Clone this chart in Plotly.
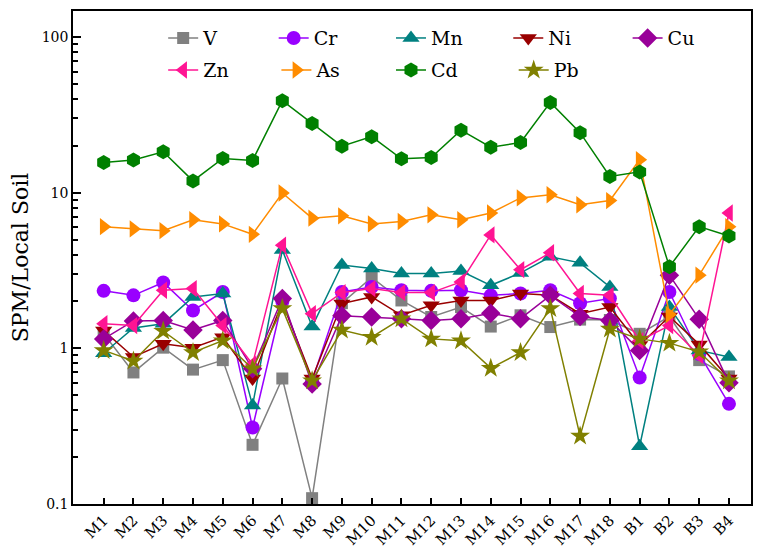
import plotly.graph_objects as go

sites = ["M1","M2","M3","M4","M5","M6","M7","M8","M9","M10","M11","M12","M13","M14","M15","M16","M17","M18","B1","B2","B3","B4"]

V  = [1.24,0.70,1.01,0.73,0.84,0.24,0.64,0.109,1.95,2.85,2.03,1.59,1.84,1.38,1.63,1.37,1.53,1.52,1.24,1.60,0.84,0.66]
Cr = [2.34,2.19,2.65,1.75,2.30,0.31,2.00,0.62,2.30,2.48,2.36,2.34,2.36,2.19,2.25,2.36,1.95,2.09,0.65,2.30,0.92,0.44]
Mn = [0.93,1.35,1.44,2.14,2.25,0.43,4.28,1.38,3.43,3.26,3.02,3.02,3.14,2.54,3.05,3.87,3.54,2.48,0.235,1.84,0.97,0.88]
Ni = [1.30,0.88,1.07,1.01,1.18,0.64,1.98,0.64,1.94,2.14,1.63,1.89,2.03,2.03,2.25,2.19,1.67,1.84,1.05,1.60,1.06,0.64]
Cu = [1.15,1.50,1.51,1.31,1.51,0.74,2.09,0.59,1.62,1.59,1.55,1.51,1.55,1.68,1.55,2.19,1.60,1.51,0.97,2.95,1.54,0.60]
Zn = [1.44,1.40,2.36,2.42,1.40,0.79,4.60,1.67,2.28,2.42,2.28,2.28,2.67,5.35,3.20,4.11,2.25,2.19,1.12,1.40,0.90,7.40]
As = [6.05,5.85,5.70,6.70,6.30,5.40,9.95,6.86,7.10,6.30,6.53,7.20,6.70,7.40,9.25,9.70,8.36,8.90,16.3,1.65,2.95,6.05]
Cd = [15.6,16.2,18.3,11.9,16.6,16.1,39.0,27.8,19.9,22.9,16.5,16.8,25.2,19.6,21.0,38.0,24.3,12.7,13.6,3.34,6.05,5.27]
Pb = [0.97,0.83,1.29,0.94,1.12,0.74,1.80,0.62,1.31,1.18,1.55,1.15,1.12,0.746,0.94,1.80,0.273,1.33,1.15,1.08,0.95,0.62]

series = [
    ("V", V, "#808080", "square", 12),
    ("Cr", Cr, "#9900FF", "circle", 14),
    ("Mn", Mn, "#008080", "triangle-up", 15),
    ("Ni", Ni, "#990000", "triangle-down", 15),
    ("Cu", Cu, "#990099", "diamond", 15),
    ("Zn", Zn, "#FF1493", "triangle-left", 15),
    ("As", As, "#FF8C00", "triangle-right", 15),
    ("Cd", Cd, "#008000", "hexagon", 15),
    ("Pb", Pb, "#808000", "star", 15),
]

legend_x = [0.133, 0.296, 0.469, 0.642, 0.818, 0.133, 0.300, 0.469, 0.650]
legend_y = [0.945, 0.945, 0.945, 0.945, 0.945, 0.880, 0.880, 0.880, 0.880]

FONT = "DejaVu Serif"

fig = go.Figure()
layout_legends = {}
for i, (name, vals, col, sym, sz) in enumerate(series):
    lg = "legend" if i == 0 else f"legend{i+1}"
    fig.add_trace(go.Scatter(
        x=sites, y=vals, name=name, mode="lines+markers",
        line=dict(color=col, width=1.5),
        marker=dict(symbol=sym, size=sz, color=col, line=dict(width=0)),
        legend=lg, showlegend=True,
    ))
    layout_legends[lg] = dict(
        x=legend_x[i], y=legend_y[i], xanchor="left", yanchor="middle",
        orientation="h", bgcolor="rgba(0,0,0,0)", borderwidth=0,
        font=dict(family=FONT, size=19, color="black"),
        itemsizing="trace", visible=True,
    )

# the page body has an 8px margin, so size and margins compensate for it
fig.update_layout(
    width=756, height=550,
    showlegend=True,
    margin=dict(l=65, r=13, t=3, b=54, autoexpand=False),
    paper_bgcolor="white", plot_bgcolor="white",
    font=dict(family=FONT, color="black"),
    xaxis=dict(
        type="category", range=[-1.03, 21.74],
        showgrid=False, zeroline=False,
        showline=True, linecolor="black", linewidth=1.5, mirror=True,
        ticks="inside", ticklen=6, tickwidth=1.5, tickcolor="black",
        tickangle=-45, tickfont=dict(family=FONT, size=15, color="black"),
    ),
    yaxis=dict(
        type="log", range=[-1, 2.167],
        tickvals=[0.1, 1, 10, 100], ticktext=["0.1", "1", "10", "100"],
        showgrid=False, zeroline=False,
        showline=True, linecolor="black", linewidth=1.5, mirror=True,
        ticks="inside", ticklen=8, tickwidth=1.5, tickcolor="black",
        minor=dict(ticks="inside", ticklen=5, tickwidth=1.5, tickcolor="black",
                   tickvals=[0.2,0.3,0.4,0.5,0.6,0.7,0.8,0.9,2,3,4,5,6,7,8,9,20,30,40,50,60,70,80,90,200], showgrid=False),
        tickfont=dict(family=FONT, size=14, color="black"),
        title=dict(text="SPM/Local Soil", font=dict(family=FONT, size=22, color="black"), standoff=8),
    ),
    **layout_legends,
)

fig.write_html("out.html")
